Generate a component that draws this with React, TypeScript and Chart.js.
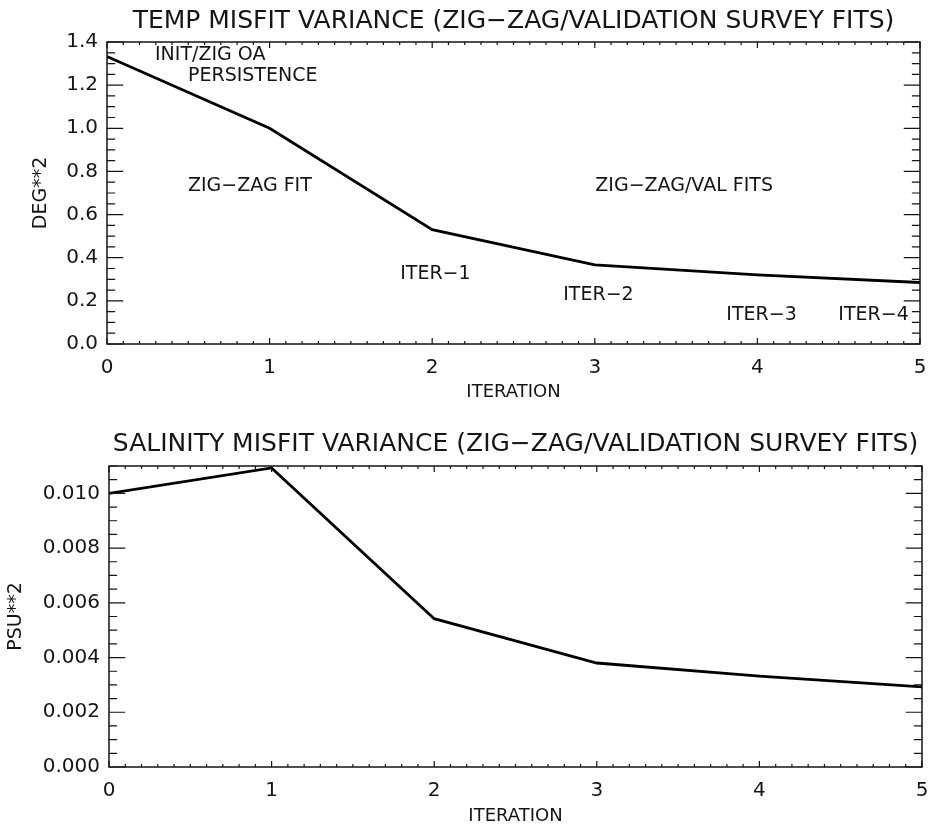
import React, { useEffect, useRef } from "react";
import { Chart, registerables } from "chart.js";
Chart.register(...registerables);

// ---- data ----
const iterations = [0, 1, 2, 3, 4, 5];
const tempVariance = [1.333, 1.0, 0.53, 0.367, 0.32, 0.285];
const salinityVariance = [0.01, 0.01093, 0.00542, 0.0038, 0.00332, 0.00293];

const tempTitle = "TEMP MISFIT VARIANCE (ZIG−ZAG/VALIDATION SURVEY FITS)";
const salTitle = "SALINITY MISFIT VARIANCE (ZIG−ZAG/VALIDATION SURVEY FITS)";
const xAxisTitle = "ITERATION";
const tempYTitle = "DEG**2";
const salYTitle = "PSU**2";

const tempAnnotationText = [
  "INIT/ZIG OA",
  "PERSISTENCE",
  "ZIG−ZAG FIT",
  "ZIG−ZAG/VAL FITS",
  "ITER−1",
  "ITER−2",
  "ITER−3",
  "ITER−4",
];
const tempAnnotationX = [0.295, 0.498, 0.498, 3.003, 1.803, 2.806, 3.809, 4.498];
const tempAnnotationY = [1.34, 1.242, 0.73, 0.73, 0.326, 0.228, 0.135, 0.135];

const FONT = "'DejaVu Sans', sans-serif";
const INK = "#151515";

const idlFrame = {
  id: "idlFrame",
  afterDraw(chart: any, _args: any, opts: any) {
    const { ctx, chartArea } = chart;
    const { left, right, top, bottom } = chartArea;
    const xs = chart.scales.x;
    const ys = chart.scales.y;
    ctx.save();
    ctx.strokeStyle = INK;
    ctx.lineWidth = 1.5;
    ctx.strokeRect(left, top, right - left, bottom - top);
    ctx.lineWidth = 1.2;
    const xMajorLen = 0.02 * (bottom - top);
    const yMajorLen = 0.02 * (right - left);
    const nx = Math.round((xs.max - xs.min) / opts.xMinor);
    const xEvery = Math.round(opts.xMajor / opts.xMinor);
    ctx.beginPath();
    for (let i = 0; i <= nx; i++) {
      const v = xs.min + i * opts.xMinor;
      const px = xs.getPixelForValue(v);
      const len = i % xEvery === 0 ? xMajorLen : xMajorLen / 2;
      ctx.moveTo(px, bottom);
      ctx.lineTo(px, bottom - len);
      ctx.moveTo(px, top);
      ctx.lineTo(px, top + len);
    }
    const ny = Math.round((ys.max - ys.min) / opts.yMinor);
    const yEvery = Math.round(opts.yMajor / opts.yMinor);
    for (let i = 0; i <= ny; i++) {
      const v = ys.min + i * opts.yMinor;
      const py = ys.getPixelForValue(v);
      const len = i % yEvery === 0 ? yMajorLen : yMajorLen / 2;
      ctx.moveTo(left, py);
      ctx.lineTo(left + len, py);
      ctx.moveTo(right, py);
      ctx.lineTo(right - len, py);
    }
    ctx.stroke();

    ctx.fillStyle = INK;
    ctx.font = `25px ${FONT}`;
    ctx.textAlign = "center";
    ctx.textBaseline = "middle";
    ctx.fillText(opts.title, (left + right) / 2, opts.titleY);

    ctx.font = `19px ${FONT}`;
    ctx.textAlign = "left";
    const texts: string[] = opts.annText || [];
    for (let i = 0; i < texts.length; i++) {
      ctx.fillText(
        texts[i],
        xs.getPixelForValue(opts.annX[i]),
        ys.getPixelForValue(opts.annY[i])
      );
    }
    ctx.restore();
  },
};

type PanelProps = {
  width: number;
  height: number;
  values: number[];
  yMax: number;
  yStep: number;
  yMinor: number;
  decimals: number;
  yTitle: string;
  yTitlePad: number;
  yWidth: number;
  xHeight: number;
  xTitlePadBottom: number;
  padTop: number;
  padRight: number;
  title: string;
  titleY: number;
  annText?: string[];
  annX?: number[];
  annY?: number[];
};

function Panel(p: PanelProps) {
  const ref = useRef<HTMLCanvasElement>(null);
  useEffect(() => {
    if (!ref.current) return;
    const points = iterations.map((x, i) => ({ x, y: p.values[i] }));
    const chart = new Chart(ref.current, {
      type: "line",
      data: {
        datasets: [
          {
            data: points,
            borderColor: "#000",
            borderWidth: 2.8,
            pointRadius: 0,
            tension: 0,
            fill: false,
          },
        ],
      },
      options: {
        animation: false,
        responsive: false,
        events: [],
        layout: { padding: { top: p.padTop, right: p.padRight, left: 0, bottom: 0 } },
        plugins: {
          legend: { display: false },
          tooltip: { enabled: false },
          title: { display: false },
          idlFrame: {
            xMajor: 1,
            xMinor: 0.1,
            yMajor: p.yStep,
            yMinor: p.yMinor,
            title: p.title,
            titleY: p.titleY,
            annText: p.annText,
            annX: p.annX,
            annY: p.annY,
          },
        } as any,
        scales: {
          x: {
            type: "linear",
            min: 0,
            max: 5,
            grid: { display: false, drawTicks: false },
            border: { display: false },
            ticks: {
              stepSize: 1,
              padding: 12,
              color: INK,
              font: { family: FONT, size: 20 },
              callback: (v: any) => String(v),
            },
            title: {
              display: true,
              text: xAxisTitle,
              color: INK,
              font: { family: FONT, size: 18 },
              padding: { top: 0, bottom: p.xTitlePadBottom },
            },
            afterFit: (s: any) => {
              s.height = p.xHeight;
              s.paddingRight = 0;
              s.paddingLeft = 0;
            },
          },
          y: {
            type: "linear",
            min: 0,
            max: p.yMax,
            grid: { display: false, drawTicks: false },
            border: { display: false },
            ticks: {
              stepSize: p.yStep,
              includeBounds: false,
              padding: 9,
              color: INK,
              font: { family: FONT, size: 20 },
              callback: (v: any) => Number(v).toFixed(p.decimals),
            },
            title: {
              display: true,
              text: p.yTitle,
              color: INK,
              font: { family: FONT, size: 19 },
              padding: { top: p.yTitlePad, bottom: 0 },
            },
            afterFit: (s: any) => {
              s.width = p.yWidth;
              s.paddingTop = 0;
              s.paddingBottom = 0;
            },
          },
        },
      },
      plugins: [idlFrame],
    });
    return () => chart.destroy();
  }, []);
  return <canvas ref={ref} width={p.width} height={p.height} style={{ display: "block" }} />;
}

export default function App() {
  return (
    <div
      style={{
        position: "fixed",
        left: 0,
        top: 0,
        width: 936,
        height: 827,
        background: "#fff",
      }}
    >
      <div style={{ position: "absolute", left: 0, top: 0 }}>
        <Panel
          width={936}
          height={410}
          values={tempVariance}
          yMax={1.4}
          yStep={0.2}
          yMinor={0.05}
          decimals={1}
          yTitle={tempYTitle}
          yTitlePad={30}
          yWidth={107}
          xHeight={66}
          xTitlePadBottom={7}
          padTop={42}
          padRight={16}
          title={tempTitle}
          titleY={21}
          annText={tempAnnotationText}
          annX={tempAnnotationX}
          annY={tempAnnotationY}
        />
      </div>
      <div style={{ position: "absolute", left: 0, top: 410 }}>
        <Panel
          width={936}
          height={417}
          values={salinityVariance}
          yMax={0.011}
          yStep={0.002}
          yMinor={0.0005}
          decimals={3}
          yTitle={salYTitle}
          yTitlePad={5}
          yWidth={109}
          xHeight={60}
          xTitlePadBottom={0}
          padTop={56}
          padRight={14}
          title={salTitle}
          titleY={34}
        />
      </div>
    </div>
  );
}
